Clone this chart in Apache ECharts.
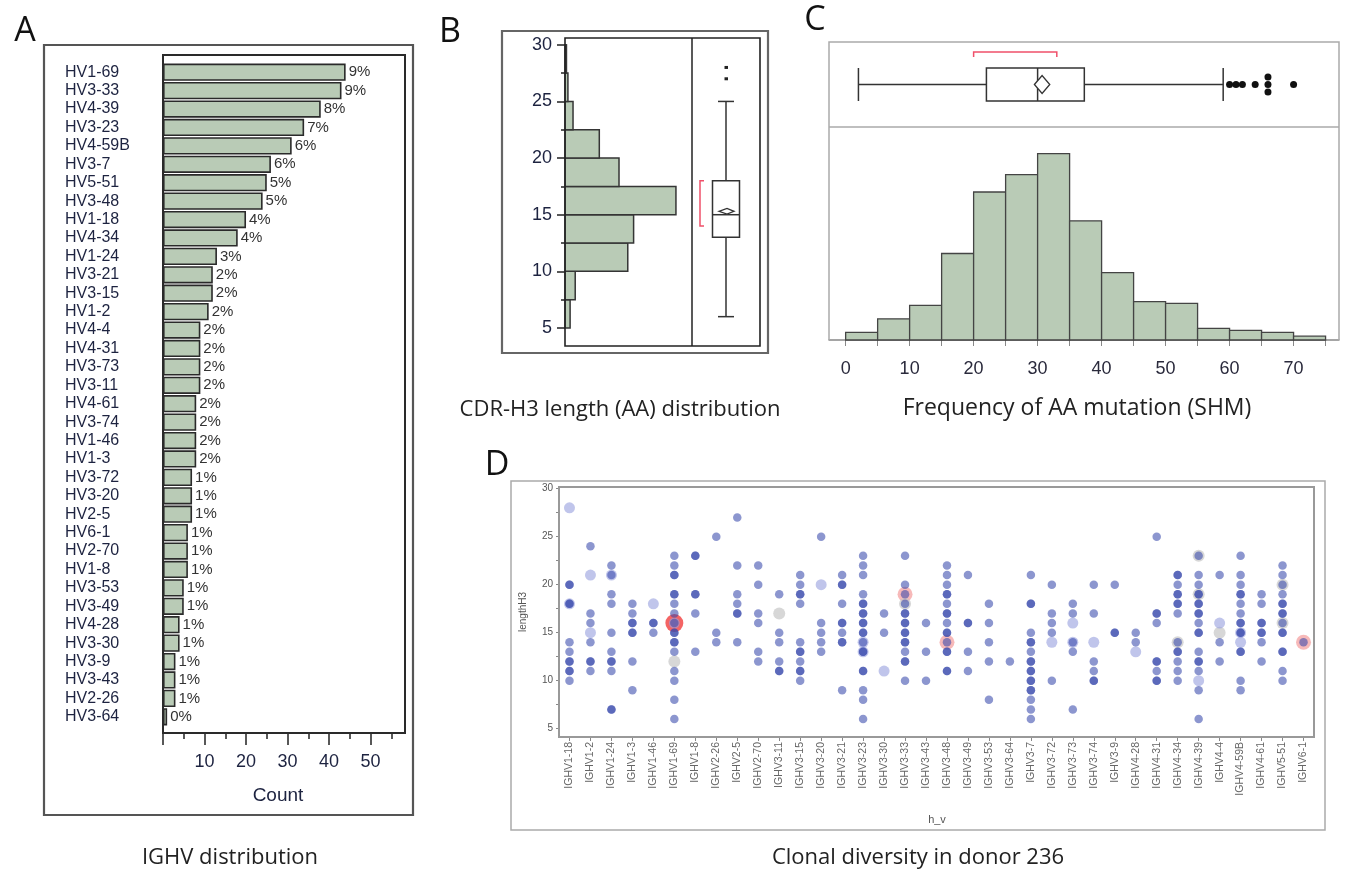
<!DOCTYPE html>
<html><head><meta charset="utf-8">
<script src="https://cdn.jsdelivr.net/npm/echarts@6/dist/echarts.min.js"></script>
<style>html,body{margin:0;padding:0;background:#fff}#c{width:1349px;height:876px}</style>
</head><body><div id="c"></div>
<script>
// ---------- Panel A: IGHV distribution ----------
const ighvCategories = ['HV1-69','HV3-33','HV4-39','HV3-23','HV4-59B','HV3-7','HV5-51','HV3-48','HV1-18','HV4-34','HV1-24','HV3-21','HV3-15','HV1-2','HV4-4','HV4-31','HV3-73','HV3-11','HV4-61','HV3-74','HV1-46','HV1-3','HV3-72','HV3-20','HV2-5','HV6-1','HV2-70','HV1-8','HV3-53','HV3-49','HV4-28','HV3-30','HV3-9','HV3-43','HV2-26','HV3-64'];
const ighvCounts = [44,43,38,34,31,26,25,24,20,18,13,12,12,11,9,9,9,9,8,8,8,8,7,7,7,6,6,6,5,5,4,4,3,3,3,1];
const ighvPercent = ['9%','9%','8%','7%','6%','6%','5%','5%','4%','4%','3%','2%','2%','2%','2%','2%','2%','2%','2%','2%','2%','2%','1%','1%','1%','1%','1%','1%','1%','1%','1%','1%','1%','1%','1%','0%'];
const countTickLabels = [10,20,30,40,50];

// ---------- Panel B: CDR-H3 length ----------
const cdrBinLo = [5,7.5,10,12.5,15,17.5,20,22.5,25,27.5];
const cdrBinCounts = [7,14,86,94,152,74,47,11,4,2];
const cdrBinWidth = 2.5;
const cdrTickLabels = [5,10,15,20,25,30];
// [whiskerLow, Q1, median, Q3, whiskerHigh, mean, meanCILow, meanCIHigh, shortestHalfLow, shortestHalfHigh]
const cdrBoxStats = [6,13,15,18,25,15.3,15.05,15.55,14,18];
const cdrOutliers = [27,28];

// ---------- Panel C: SHM frequency ----------
const shmBinLo = [0,5,10,15,20,25,30,35,40,45,50,55,60,65,70];
const shmBinCounts = [4,11,18,45,77,86,97,62,35,20,19,6,5,4,2];
const shmBinWidth = 5;
const shmTickLabels = [0,10,20,30,40,50,60,70];
const shmBoxStats = [2,22,30,37.3,59,30.7,29.5,31.9,20,33];
const shmOutliers = [60,61,62,64,66,66,66,70];

// ---------- Panel D: clonal diversity ----------
const dCategories = ['IGHV1-18','IGHV1-2','IGHV1-24','IGHV1-3','IGHV1-46','IGHV1-69','IGHV1-8','IGHV2-26','IGHV2-5','IGHV2-70','IGHV3-11','IGHV3-15','IGHV3-20','IGHV3-21','IGHV3-23','IGHV3-30','IGHV3-33','IGHV3-43','IGHV3-48','IGHV3-49','IGHV3-53','IGHV3-64','IGHV3-7','IGHV3-72','IGHV3-73','IGHV3-74','IGHV3-9','IGHV4-28','IGHV4-31','IGHV4-34','IGHV4-39','IGHV4-4','IGHV4-59B','IGHV4-61','IGHV5-51','IGHV6-1'];
const dDark = [
 [20,20,18,18,14,13,12,12,11,11,10],
 [24,17,16,14,12,12,11],
 [22,21,19,18,15,13,12,12,11,7,7],
 [18,17,16,16,15,15,12,9],
 [16,16,15],
 [23,22,21,21,19,19,18,17,16,15,15,14,14,13,11,10,8,6],
 [23,23,19,19,17,13],
 [25,15,14],
 [27,22,19,18,17,17,14],
 [22,20,17,16,13,12],
 [19,15,14,12,11,11],
 [21,20,19,19,18,14,13,13,12,11,11,10],
 [25,16,15,14,13],
 [21,20,20,18,16,16,15,14,14,9],
 [23,22,21,19,18,18,17,17,16,16,15,15,14,13,13,11,11,9,8,6],
 [17,15],
 [23,20,19,18,17,17,16,16,15,15,14,14,13,12,12,10],
 [16,13,10],
 [22,21,20,19,19,18,17,17,16,15,15,14,13,13,11,11],
 [21,16,16,13,11],
 [18,16,14,12,8],
 [12],
 [21,18,18,15,14,14,13,12,12,11,11,10,10,9,9,8,7,6],
 [20,17,16,15,10],
 [18,17,14,13,7],
 [20,17,12,11,10,10],
 [20,15,15],
 [15,14],
 [25,17,17,16,12,12,11,10,10],
 [21,21,20,19,19,18,18,17,14,13,13,12,11,10],
 [23,21,20,19,19,18,18,17,17,16,15,15,13,12,12,11,9,6],
 [21,14,12],
 [23,21,20,19,19,18,17,16,16,15,15,13,13,10,9],
 [19,18,16,16,15,15,14,12],
 [22,21,20,19,18,18,17,17,16,15,15,13,13,11,10],
 [14]
];
const dLight = {'IGHV1-18':[28,18],'IGHV1-2':[21,15],'IGHV1-24':[21],'IGHV1-46':[18],'IGHV1-69':[16],'IGHV3-20':[20],'IGHV3-23':[14,13],'IGHV3-30':[11],'IGHV3-72':[14],'IGHV3-73':[16,14],'IGHV3-74':[14],'IGHV4-28':[13],'IGHV4-39':[10],'IGHV4-4':[16],'IGHV4-59B':[15,14]};
const dGray = {'IGHV1-69':[12],'IGHV3-11':[17],'IGHV3-33':[18],'IGHV4-34':[14],'IGHV4-39':[23,19],'IGHV4-4':[15],'IGHV5-51':[20,16]};
const dRedStrong = {'IGHV1-69':[16]};
const dRed = {'IGHV3-33':[19],'IGHV3-48':[14],'IGHV6-1':[14]};
const dTickLabels = [5,10,15,20,25,30];

// ---------- helpers ----------
function range(a,b,s){const r=[];for(let v=a;v<=b+1e-9;v+=s)r.push(+v.toFixed(2));return r;}
const darkData=[]; dDark.forEach((arr,i)=>arr.forEach(v=>darkData.push([dCategories[i],v])));
function fromMap(m){const out=[];Object.keys(m).forEach(k=>m[k].forEach(v=>out.push([k,v])));return out;}

const GREEN='#b9cbb6', EDGE='#353535';

function renderHBin(params, api){
  const lo=api.value(0), hi=api.value(1), c=api.value(2);
  const a=api.coord([0,hi]), b=api.coord([c,lo]);
  return {type:'rect',shape:{x:a[0],y:a[1],width:b[0]-a[0],height:b[1]-a[1]},style:{fill:GREEN,stroke:EDGE,lineWidth:1.5}};
}
function renderVBin(params, api){
  const lo=api.value(0), hi=api.value(1), c=api.value(2);
  const a=api.coord([lo,c]), b=api.coord([hi,0]);
  return {type:'rect',shape:{x:a[0],y:a[1],width:b[0]-a[0],height:b[1]-a[1]},style:{fill:GREEN,stroke:'#444',lineWidth:1.3}};
}
function renderVBox(params, api){
  const cs=params.coordSys; const cx=cs.x+cs.width/2;
  const y=v=>api.coord([0,v])[1]; const s=i=>api.value(i);
  const st={stroke:'#333',lineWidth:1.5,fill:null};
  const hw=13.5, cap=8, ch=[];
  ch.push({type:'line',shape:{x1:cx,y1:y(s(0)),x2:cx,y2:y(s(1))},style:st});
  ch.push({type:'line',shape:{x1:cx,y1:y(s(3)),x2:cx,y2:y(s(4))},style:st});
  ch.push({type:'line',shape:{x1:cx-cap,y1:y(s(0)),x2:cx+cap,y2:y(s(0))},style:st});
  ch.push({type:'line',shape:{x1:cx-cap,y1:y(s(4)),x2:cx+cap,y2:y(s(4))},style:st});
  ch.push({type:'rect',shape:{x:cx-hw,y:y(s(3)),width:2*hw,height:y(s(1))-y(s(3))},style:{stroke:'#333',lineWidth:1.5,fill:'#fff'}});
  ch.push({type:'line',shape:{x1:cx-hw,y1:y(s(2)),x2:cx+hw,y2:y(s(2))},style:st});
  const ym=y(s(5));
  ch.push({type:'polygon',shape:{points:[[cx-7,ym],[cx+1,y(s(7))],[cx+8,ym],[cx+1,y(s(6))]]},style:{stroke:'#333',lineWidth:1.3,fill:'#fff'}});
  const bx=cx-26;
  ch.push({type:'polyline',shape:{points:[[bx+4,y(s(9))],[bx,y(s(9))],[bx,y(s(8))],[bx+4,y(s(8))]]},style:{stroke:'#f0506a',lineWidth:1.5,fill:null}});
  cdrOutliers.forEach(v=>ch.push({type:'rect',shape:{x:cx-1.5,y:y(v)-1.5,width:3.5,height:3},style:{fill:'#222'}}));
  return {type:'group',children:ch};
}
function renderHBox(params, api){
  const cs=params.coordSys; const cy=cs.y+cs.height/2;
  const x=v=>api.coord([v,0])[0]; const s=i=>api.value(i);
  const st={stroke:'#333',lineWidth:1.5,fill:null};
  const hh=16.5, ch=[];
  ch.push({type:'line',shape:{x1:x(s(0)),y1:cy,x2:x(s(1)),y2:cy},style:st});
  ch.push({type:'line',shape:{x1:x(s(3)),y1:cy,x2:x(s(4)),y2:cy},style:st});
  ch.push({type:'line',shape:{x1:x(s(0)),y1:cy-hh,x2:x(s(0)),y2:cy+hh},style:st});
  ch.push({type:'line',shape:{x1:x(s(4)),y1:cy-hh,x2:x(s(4)),y2:cy+hh},style:st});
  ch.push({type:'rect',shape:{x:x(s(1)),y:cy-hh,width:x(s(3))-x(s(1)),height:2*hh},style:{stroke:'#333',lineWidth:1.5,fill:'#fff'}});
  ch.push({type:'line',shape:{x1:x(s(2)),y1:cy-hh,x2:x(s(2)),y2:cy+hh},style:st});
  ch.push({type:'polygon',shape:{points:[[x(s(6)),cy],[x(s(5)),cy-9],[x(s(7)),cy],[x(s(5)),cy+9]]},style:{stroke:'#333',lineWidth:1.3,fill:'#fff'}});
  const by=cy-32.5;
  ch.push({type:'polyline',shape:{points:[[x(s(8)),by+5],[x(s(8)),by],[x(s(9)),by],[x(s(9)),by+5]]},style:{stroke:'#f0506a',lineWidth:1.5,fill:null}});
  const seen={};
  shmOutliers.forEach(v=>{seen[v]=(seen[v]||0)+1;});
  const idx={};
  shmOutliers.forEach(v=>{const n=seen[v];idx[v]=(idx[v]||0);const off=(idx[v]-(n-1)/2)*7.5;idx[v]++;
    ch.push({type:'circle',shape:{cx:x(v),cy:cy+off,r:3.5},style:{fill:'#111'}});});
  return {type:'group',children:ch};
}

const AX='Liberation Sans, Arial, sans-serif';
const CAP='Open Sans, Noto Sans, sans-serif';

const option = {
  animation:false,
  backgroundColor:'#fff',
  grid:[
    {left:163, top:63, width:242, height:663},        // 0 A
    {left:565, top:38, width:127, height:308},        // 1 B hist
    {left:692, top:38, width:68, height:308},         // 2 B box
    {left:829, top:127, width:510, height:213},       // 3 C hist
    {left:829, top:42, width:510, height:85},         // 4 C box
    {left:559, top:487, width:755, height:250},       // 5 D
    {left:163, top:63, width:242, height:663},        // 6 A minor ticks
    {left:565, top:38, width:127, height:308}         // 7 B minor ticks
  ],
  xAxis:[
    {gridIndex:0,type:'value',position:'bottom',min:0,max:58.3,offset:7,axisLine:{show:false,onZero:false},splitLine:{show:false},
     axisTick:{show:true,inside:false,length:12,lineStyle:{color:'#222',width:1.5},customValues:[0,10,20,30,40,50]},
     axisLabel:{customValues:countTickLabels,fontSize:18,color:'#1d2340',margin:20,fontFamily:AX}},
    {gridIndex:6,type:'value',position:'bottom',min:0,max:58.3,offset:7,axisLine:{show:false,onZero:false},splitLine:{show:false},
     axisTick:{show:true,inside:false,length:6,lineStyle:{color:'#222',width:1.5},customValues:[5,15,25,35,45,55]},axisLabel:{show:false}},
    {gridIndex:1,type:'value',min:0,max:174,show:false},
    {gridIndex:2,type:'value',min:0,max:1,show:false},
    {gridIndex:3,type:'value',min:-2.6,max:77.1,axisLine:{show:true,onZero:false,lineStyle:{color:'#888',width:1.5}},splitLine:{show:false},
     axisTick:{show:true,length:6,lineStyle:{color:'#888'},customValues:range(0,75,5)},
     axisLabel:{customValues:shmTickLabels,fontSize:18,color:'#2a2a3c',margin:20,fontFamily:AX}},
    {gridIndex:4,type:'value',min:-2.6,max:77.1,show:false},
    {gridIndex:5,type:'category',data:dCategories,boundaryGap:true,axisLine:{show:false,onZero:false},
     axisTick:{show:true,alignWithLabel:true,length:4,lineStyle:{color:'#888'}},
     axisLabel:{interval:0,rotate:90,fontSize:10.5,color:'#666',margin:5,fontFamily:AX}},
    {gridIndex:7,type:'value',min:0,max:1,show:false}
  ],
  yAxis:[
    {gridIndex:0,type:'category',data:ighvCategories,inverse:true,axisLine:{show:false},axisTick:{show:false},
     axisLabel:{interval:0,align:'left',margin:98,fontSize:16,color:'#1d2340',fontFamily:AX}},
    {gridIndex:1,type:'value',position:'left',min:3.41,max:30.6,axisLine:{show:false,onZero:false},splitLine:{show:false},
     axisTick:{show:true,inside:false,length:8,lineStyle:{color:'#222',width:1.5},customValues:cdrTickLabels},
     axisLabel:{customValues:cdrTickLabels,fontSize:18,color:'#1d2340',margin:13,fontFamily:AX}},
    {gridIndex:7,type:'value',position:'left',min:3.41,max:30.6,axisLine:{show:false,onZero:false},splitLine:{show:false},
     axisTick:{show:true,inside:false,length:4,lineStyle:{color:'#222',width:1.5},customValues:[7.5,12.5,17.5,22.5,27.5]},axisLabel:{show:false}},
    {gridIndex:2,type:'value',min:3.41,max:30.6,show:false},
    {gridIndex:3,type:'value',min:0,max:110.8,show:false},
    {gridIndex:4,type:'value',min:0,max:1,show:false},
    {gridIndex:5,type:'value',min:4.13,max:30.17,axisLine:{show:false,onZero:false},splitLine:{show:false},
     axisTick:{show:true,length:3,lineStyle:{color:'#888'},customValues:range(5,30,2.5)},
     axisLabel:{customValues:dTickLabels,fontSize:10,color:'#555',margin:6,fontFamily:AX}},
    {gridIndex:6,type:'value',min:0,max:1,show:false}
  ],
  series:[
    {type:'bar',xAxisIndex:0,yAxisIndex:0,data:ighvCounts,barCategoryGap:'6%',
     itemStyle:{color:GREEN,borderColor:'#2a2a2a',borderWidth:1.6},
     label:{show:true,position:'right',distance:3,fontSize:15,color:'#333',fontFamily:AX,
            formatter:p=>ighvPercent[p.dataIndex]}},
    {type:'custom',xAxisIndex:2,yAxisIndex:1,renderItem:renderHBin,
     data:cdrBinLo.map((lo,i)=>[lo,lo+cdrBinWidth,cdrBinCounts[i]]),encode:{x:2,y:[0,1]}},
    {type:'custom',xAxisIndex:3,yAxisIndex:3,renderItem:renderVBox,data:[cdrBoxStats],encode:{x:-1,y:[0,4]}},
    {type:'custom',xAxisIndex:4,yAxisIndex:4,renderItem:renderVBin,
     data:shmBinLo.map((lo,i)=>[lo,lo+shmBinWidth,shmBinCounts[i]]),encode:{x:[0,1],y:2}},
    {type:'custom',xAxisIndex:5,yAxisIndex:5,renderItem:renderHBox,data:[shmBoxStats],encode:{x:[0,4],y:-1}},
    {type:'scatter',xAxisIndex:6,yAxisIndex:6,data:fromMap(dRedStrong),symbolSize:18,itemStyle:{color:'rgba(240,40,40,0.9)'}},
    {type:'scatter',xAxisIndex:6,yAxisIndex:6,data:fromMap(dRed),symbolSize:15,itemStyle:{color:'rgba(236,80,80,0.5)'}},
    {type:'scatter',xAxisIndex:6,yAxisIndex:6,data:fromMap(dGray),symbolSize:12,itemStyle:{color:'rgba(196,196,196,0.85)'}},
    {type:'scatter',xAxisIndex:6,yAxisIndex:6,data:fromMap(dLight),symbolSize:11,itemStyle:{color:'rgba(150,158,222,0.75)'}},
    {type:'scatter',xAxisIndex:6,yAxisIndex:6,data:darkData,symbolSize:8.5,itemStyle:{color:'rgba(56,72,172,0.72)'}}
  ],
  graphic:[
    // frames
    {type:'rect',z:100,shape:{x:44,y:45,width:369,height:770},style:{fill:null,stroke:'#555',lineWidth:2.2}},
    {type:'rect',z:100,shape:{x:163,y:55,width:242,height:678},style:{fill:null,stroke:'#2a2a2a',lineWidth:2}},
    {type:'rect',z:100,shape:{x:502,y:31,width:266,height:322},style:{fill:null,stroke:'#666',lineWidth:2.2}},
    {type:'rect',z:100,shape:{x:565,y:38,width:195,height:308},style:{fill:null,stroke:'#222',lineWidth:1.6}},
    {type:'line',z:100,shape:{x1:692,y1:38,x2:692,y2:346},style:{stroke:'#222',lineWidth:1.5}},
    {type:'polyline',z:100,shape:{points:[[829,340],[829,42],[1339,42],[1339,340]]},style:{fill:null,stroke:'#aaa',lineWidth:1.5}},
    {type:'line',z:100,shape:{x1:829,y1:127,x2:1339,y2:127},style:{stroke:'#aaa',lineWidth:1.5}},
    {type:'rect',z:100,shape:{x:511,y:481,width:814,height:349},style:{fill:null,stroke:'#aaa',lineWidth:1.5}},
    {type:'rect',z:100,shape:{x:559,y:487,width:755,height:250},style:{fill:null,stroke:'#999',lineWidth:2}},
    // panel letters
    {type:'text',x:25,y:31,style:{text:'A',font:'34px '+CAP,fill:'#111',align:'center',verticalAlign:'middle'}},
    {type:'text',x:450,y:32,style:{text:'B',font:'34px '+CAP,fill:'#111',align:'center',verticalAlign:'middle'}},
    {type:'text',x:815,y:20,style:{text:'C',font:'34px '+CAP,fill:'#111',align:'center',verticalAlign:'middle'}},
    {type:'text',x:497,y:465,style:{text:'D',font:'34px '+CAP,fill:'#111',align:'center',verticalAlign:'middle'}},
    // captions
    {type:'text',x:230,y:858,style:{text:'IGHV distribution',font:'22px '+CAP,fill:'#222',align:'center',verticalAlign:'middle'}},
    {type:'text',x:620,y:410,style:{text:'CDR-H3 length (AA) distribution',font:'22px '+CAP,fill:'#222',align:'center',verticalAlign:'middle'}},
    {type:'text',x:1077,y:408,style:{text:'Frequency of AA mutation (SHM)',font:'23px '+CAP,fill:'#222',align:'center',verticalAlign:'middle'}},
    {type:'text',x:918,y:858,style:{text:'Clonal diversity in donor 236',font:'22px '+CAP,fill:'#222',align:'center',verticalAlign:'middle'}},
    // axis titles
    {type:'text',x:278,y:796,style:{text:'Count',font:'19px '+AX,fill:'#1d2340',align:'center',verticalAlign:'middle'}},
    {type:'text',x:523,y:612,rotation:Math.PI/2,style:{text:'lengthH3',font:'10px '+AX,fill:'#555',align:'center',verticalAlign:'middle'}},
    {type:'text',x:937,y:820,style:{text:'h_v',font:'11px '+AX,fill:'#555',align:'center',verticalAlign:'middle'}}
  ]
};
const chart = echarts.init(document.getElementById('c'),null,{renderer:'canvas'});
chart.setOption(option);
</script>
</body></html>
